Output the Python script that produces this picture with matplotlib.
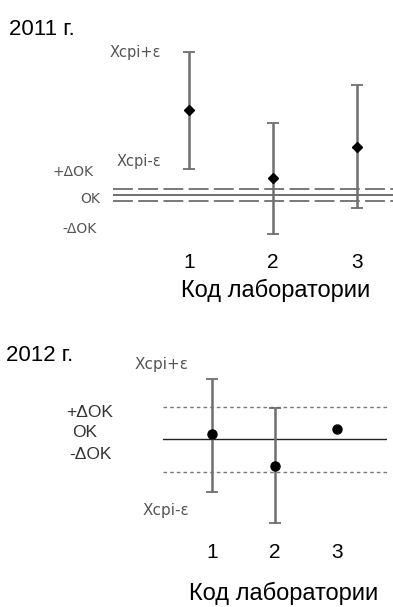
import numpy as np
from matplotlib import pyplot

W, H = 393, 607

LABS = [1, 2, 3]
TICK_LABELS = ['1', '2', '3']

# 2011: lab means and interval bounds (Xcpi-e .. Xcpi+e), OK = 0
MEAN_2011 = [8.5, 1.7, 4.8]
UPPER_2011 = [14.3, 7.2, 11.0]
LOWER_2011 = [2.6, -3.9, -1.3]
DOK_2011 = 0.6

# 2012: lab 3 has no interval
MEAN_2012 = [0.5, -2.7, 1.0]
UPPER_2012 = [6.0, 3.1, np.nan]
LOWER_2012 = [-5.3, -8.4, np.nan]
DOK_2012 = 3.25

XLABEL = 'Код лаборатории'
SANS = 'Liberation Sans'
SMALL = 'DejaVu Sans'
BAR_COLOR = '#6e6e6e'


def box(left, top, right, bottom):
  return [left / W, 1 - bottom / H, (right - left) / W, (bottom - top) / H]


def ftext(fig, x, y, s, **kw):
  fig.text(x / W, 1 - y / H, s, va='baseline', **kw)


def bare(ax):
  for spine in ax.spines.values():
    spine.set_visible(False)
  ax.set_yticks([])
  ax.set_xticks(LABS, TICK_LABELS, family=SANS, fontsize=15)
  ax.tick_params(axis='x', length=0, pad=9)
  ax.patch.set_alpha(0)


def bars(ax, mean, upper, lower, marker, ms):
  mean = np.array(mean)
  yerr = [mean - np.array(lower), np.array(upper) - mean]
  ax.errorbar(LABS, mean, yerr=yerr, fmt=marker, color='black', ms=ms,
              ecolor=BAR_COLOR, elinewidth=1.8, capsize=4.5, capthick=1.3,
              zorder=3)


def main():
  fig = pyplot.figure(figsize=(W / 100, H / 100), dpi=100)

  # 2011
  ax = fig.add_axes(box(113, 40, 393, 240))
  ax.set_xlim(0.095, 3.43)
  ax.set_ylim(-4.5, 15.5)
  ax.axhline(0, color='#555555', lw=1.2)
  for level in (DOK_2011, -DOK_2011):
    ax.axhline(level, color='#555555', lw=1.1, linestyle=(0, (13, 3.5)))
  bars(ax, MEAN_2011, UPPER_2011, LOWER_2011, 'D', 5)
  bare(ax)

  grey = dict(family=SMALL, color='#555555')
  ftext(fig, 9, 35, '2011 г.', family=SANS, fontsize=16)
  ftext(fig, 110, 57, 'Xcpi+ε', fontsize=10.5, **grey)
  ftext(fig, 117, 166, 'Xcpi-ε', fontsize=10.5, **grey)
  ftext(fig, 93, 176, '+ΔOK', ha='right', fontsize=10, **grey)
  ftext(fig, 100, 203, 'OK', ha='right', fontsize=10, **grey)
  ftext(fig, 97, 233, '-ΔOK', ha='right', fontsize=10, **grey)
  ftext(fig, 276, 297, XLABEL, ha='center', family=SANS, fontsize=17)

  # 2012
  ax = fig.add_axes(box(163, 360, 387, 530))
  ax.set_xlim(0.216, 3.8)
  ax.set_ylim(-9.1, 7.9)
  ax.axhline(0, color='#222222', lw=1.0)
  for level in (DOK_2012, -DOK_2012):
    ax.axhline(level, color='#777777', lw=1.0, linestyle=(0, (2.6, 2.2)))
  bars(ax, MEAN_2012, UPPER_2012, LOWER_2012, 'o', 6.5)
  bare(ax)

  ftext(fig, 6, 361, '2012 г.', family=SANS, fontsize=16)
  ftext(fig, 135, 369, 'Xcpi+ε', fontsize=11, **grey)
  ftext(fig, 143, 515, 'Xcpi-ε', fontsize=11, **grey)
  dark = dict(family=SANS, color='#333333', fontsize=12.5)
  ftext(fig, 113, 417, '+ΔOK', ha='right', **dark)
  ftext(fig, 72, 437, 'OK', **dark)
  ftext(fig, 112, 459, '-ΔOK', ha='right', **dark)
  ftext(fig, 284, 600, XLABEL, ha='center', family=SANS, fontsize=17)

  fig.savefig('out.png', dpi=100)


if __name__ == '__main__':
  main()
